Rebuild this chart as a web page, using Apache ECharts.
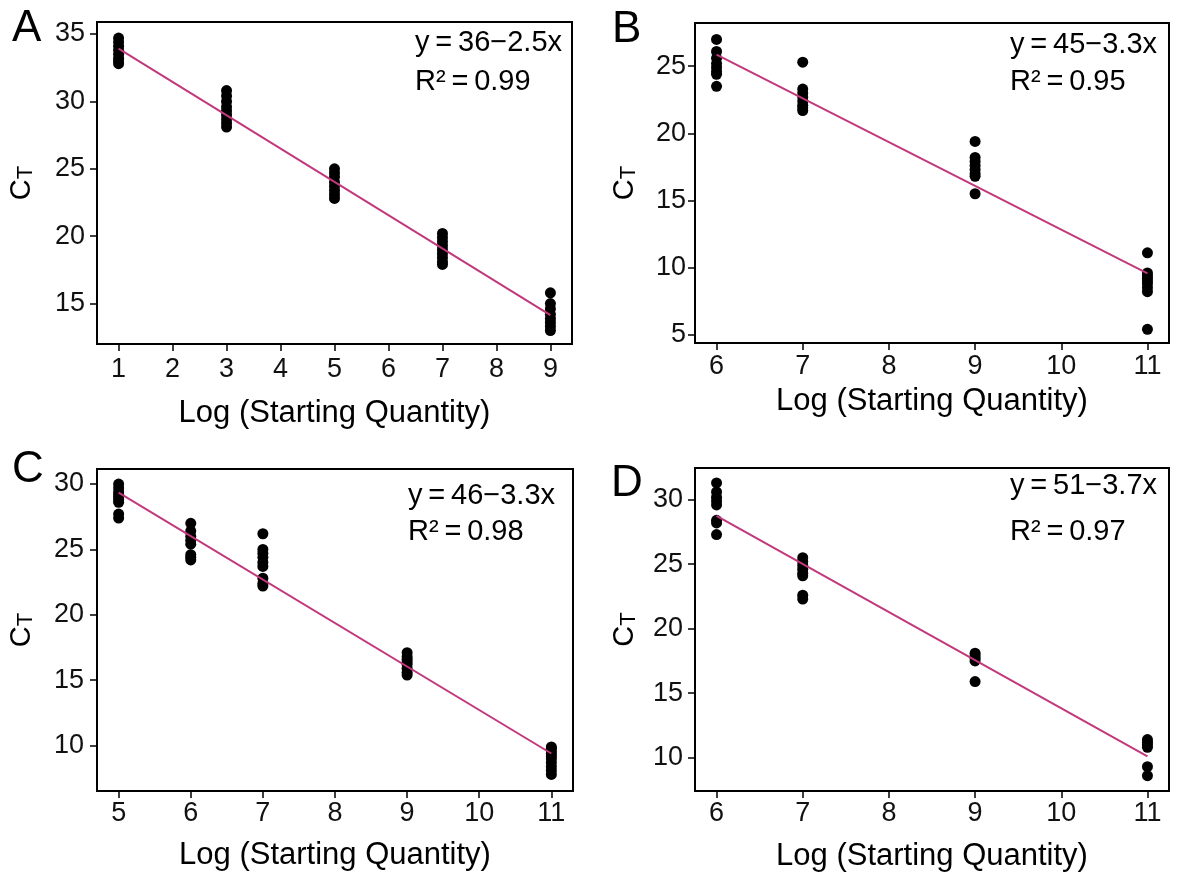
<!DOCTYPE html>
<html>
<head>
<meta charset="utf-8">
<script src="https://cdn.jsdelivr.net/npm/echarts@6/dist/echarts.min.js"></script>
<style>
  html, body { margin: 0; padding: 0; background: #fff; }
  #chart { width: 1180px; height: 881px; }
</style>
</head>
<body>
<div id="chart"></div>
<script>
// Log10 starting quantity of each dilution level, one array per panel
const levelsA = [1, 3, 5, 7, 9];
const levelsB = [6, 7, 9, 11];
const levelsC = [5, 6, 7, 9, 11];
const levelsD = [6, 7, 9, 11];

// Replicate CT values measured at each dilution level
const ctA = [
  [34.7, 34.4, 34.1, 33.8, 33.5, 33.2, 33.0, 32.8],
  [30.8, 30.4, 30.0, 29.6, 29.3, 29.0, 28.7, 28.4, 28.1],
  [25.0, 24.7, 24.4, 24.0, 23.7, 23.4, 23.1, 22.8],
  [20.2, 19.9, 19.6, 19.3, 19.0, 18.7, 18.4, 18.1, 17.9],
  [15.8, 15.0, 14.6, 14.2, 13.9, 13.6, 13.3, 13.0]
];
const ctB = [
  [27.0, 26.1, 25.6, 25.2, 24.9, 24.6, 24.4, 23.5],
  [25.3, 23.3, 23.0, 22.7, 22.4, 22.1, 21.9, 21.7],
  [19.4, 18.2, 17.9, 17.6, 17.3, 17.0, 16.8, 15.5],
  [11.1, 9.6, 9.4, 9.2, 9.0, 8.8, 8.5, 8.2, 5.4]
];
const ctC = [
  [30.0, 29.7, 29.4, 29.2, 29.0, 28.8, 28.6, 27.7, 27.4],
  [27.0, 26.4, 26.0, 25.7, 25.4, 24.6, 24.4, 24.2],
  [26.2, 25.0, 24.7, 24.4, 24.0, 23.7, 22.8, 22.4, 22.2],
  [17.1, 16.8, 16.6, 16.4, 16.2, 15.9, 15.6, 15.4],
  [9.9, 9.8, 9.6, 9.4, 9.2, 9.0, 8.7, 8.4, 8.1, 7.8]
];
const ctD = [
  [31.3, 30.6, 30.2, 29.9, 29.6, 28.4, 28.2, 27.3],
  [25.5, 25.2, 24.9, 24.6, 24.3, 24.1, 22.6, 22.3],
  [18.1, 17.9, 17.7, 17.5, 15.9],
  [11.4, 11.2, 11.0, 10.8, 9.3, 8.6]
];

// Tick labels
const xTicksA = [1, 2, 3, 4, 5, 6, 7, 8, 9];
const xTicksB = [6, 7, 8, 9, 10, 11];
const xTicksC = [5, 6, 7, 8, 9, 10, 11];
const xTicksD = [6, 7, 8, 9, 10, 11];
const yTicksA = [15, 20, 25, 30, 35];
const yTicksB = [5, 10, 15, 20, 25];
const yTicksC = [10, 15, 20, 25, 30];
const yTicksD = [10, 15, 20, 25, 30];

const panelLetters = ['A', 'B', 'C', 'D'];
const xTitle = 'Log (Starting Quantity)';

const FONT = '"Liberation Sans", Arial, Helvetica, sans-serif';
const FIT_COLOR = '#c2387c';

// Ordinary least-squares fit of CT on log quantity
function linearFit(levels, ct) {
  const pts = [];
  levels.forEach((x, i) => ct[i].forEach(y => pts.push([x, y])));
  const n = pts.length;
  let mx = 0, my = 0;
  pts.forEach(p => { mx += p[0]; my += p[1]; });
  mx /= n; my /= n;
  let sxx = 0, sxy = 0, syy = 0;
  pts.forEach(p => {
    const dx = p[0] - mx, dy = p[1] - my;
    sxx += dx * dx; sxy += dx * dy; syy += dy * dy;
  });
  const slope = sxy / sxx;
  const intercept = my - slope * mx;
  const r2 = (sxy * sxy) / (sxx * syy);
  return { pts, slope, intercept, r2, xmin: Math.min(...levels), xmax: Math.max(...levels) };
}

// Panel geometry and axis extents
const panels = [
  { levels: levelsA, ct: ctA, xTicks: xTicksA, yTicks: yTicksA,
    grid: { left: 97, top: 22, width: 475, height: 322 },
    xRange: [0.6, 9.4], yRange: [12.0, 35.89],
    xNameGap: 54, yNameGap: 60, xLabelMargin: 12, yLabelMargin: 12,
    letterPos: [12, 29], eqPos: [415, 43, 82] },
  { levels: levelsB, ct: ctB, xTicks: xTicksB, yTicks: yTicksB,
    grid: { left: 695, top: 23, width: 474, height: 320 },
    xRange: [5.75, 11.25], yRange: [4.38, 28.22],
    xNameGap: 43, yNameGap: 55, xLabelMargin: 10, yLabelMargin: 9,
    letterPos: [612, 30], eqPos: [1010, 45, 82] },
  { levels: levelsC, ct: ctC, xTicks: xTicksC, yTicks: yTicksC,
    grid: { left: 97, top: 469, width: 476, height: 322 },
    xRange: [4.7, 11.3], yRange: [6.53, 31.15],
    xNameGap: 49, yNameGap: 60, xLabelMargin: 9, yLabelMargin: 13,
    letterPos: [12, 470], eqPos: [408, 496, 532] },
  { levels: levelsD, ct: ctD, xTicks: xTicksD, yTicks: yTicksD,
    grid: { left: 695, top: 468, width: 474, height: 323 },
    xRange: [5.75, 11.25], yRange: [7.41, 32.46],
    xNameGap: 50, yNameGap: 55, xLabelMargin: 9, yLabelMargin: 12,
    letterPos: [611, 484], eqPos: [1010, 486, 532] }
];

const grids = [], xAxes = [], yAxes = [], series = [], graphics = [];

panels.forEach((p, i) => {
  const f = linearFit(p.levels, p.ct);

  grids.push(Object.assign({
    show: true, borderColor: '#000', borderWidth: 2, backgroundColor: '#fff',
    containLabel: false, outerBoundsMode: 'none'
  }, p.grid));

  xAxes.push({
    gridIndex: i, type: 'value', min: p.xRange[0], max: p.xRange[1],
    name: xTitle, nameLocation: 'middle', nameGap: p.xNameGap,
    nameTextStyle: { fontSize: 31, fontFamily: FONT, color: '#000' },
    axisLine: { show: true, onZero: false, lineStyle: { color: '#000', width: 2 } },
    axisTick: { show: true, length: 7, lineStyle: { color: '#000', width: 1.5 }, customValues: p.xTicks },
    axisLabel: { fontSize: 27, fontFamily: FONT, color: '#111', margin: p.xLabelMargin, customValues: p.xTicks },
    splitLine: { show: false }
  });

  yAxes.push({
    gridIndex: i, type: 'value', min: p.yRange[0], max: p.yRange[1],
    name: '{c|C}{t|T}', nameLocation: 'middle', nameGap: p.yNameGap, nameRotate: 90,
    nameTextStyle: {
      rich: {
        c: { fontSize: 29, fontFamily: FONT, color: '#000', lineHeight: 30 },
        t: { fontSize: 22, fontFamily: FONT, color: '#000', lineHeight: 22, verticalAlign: 'bottom' }
      }
    },
    axisLine: { show: true, onZero: false, lineStyle: { color: '#000', width: 2 } },
    axisTick: { show: true, length: 7, lineStyle: { color: '#000', width: 1.5 }, customValues: p.yTicks },
    axisLabel: { fontSize: 27, fontFamily: FONT, color: '#111', margin: p.yLabelMargin, customValues: p.yTicks },
    splitLine: { show: false }
  });

  series.push({
    type: 'scatter', xAxisIndex: i, yAxisIndex: i,
    data: f.pts, symbol: 'circle', symbolSize: 11,
    itemStyle: { color: '#000', opacity: 1 }, z: 2
  });

  series.push({
    type: 'line', xAxisIndex: i, yAxisIndex: i,
    data: [[f.xmin, f.intercept + f.slope * f.xmin], [f.xmax, f.intercept + f.slope * f.xmax]],
    showSymbol: false, symbol: 'none',
    lineStyle: { color: FIT_COLOR, width: 2 }, z: 3
  });

  // Fitted equation and coefficient of determination
  const a = Math.round(f.intercept);
  const b = Math.abs(f.slope).toFixed(1);
  const sign = f.slope < 0 ? '\u2212' : '+';
  const eqText = 'y\u2009=\u2009' + a + sign + b + 'x';
  const r2Text = 'R\u00b2\u2009=\u2009' + f.r2.toFixed(2);
  [[eqText, p.eqPos[1]], [r2Text, p.eqPos[2]]].forEach(([t, y]) => {
    graphics.push({
      type: 'text', x: p.eqPos[0], y: y, z: 10,
      style: { text: t, fontSize: 29, fontFamily: FONT, fill: '#000', align: 'left', verticalAlign: 'middle' }
    });
  });

  graphics.push({
    type: 'text', x: p.letterPos[0], y: p.letterPos[1], z: 10,
    style: { text: panelLetters[i], fontSize: 44, fontFamily: FONT, fill: '#000', align: 'left', verticalAlign: 'middle' }
  });
});

const chart = echarts.init(document.getElementById('chart'), null, { renderer: 'canvas' });
chart.setOption({
  animation: false,
  backgroundColor: '#fff',
  grid: grids,
  xAxis: xAxes,
  yAxis: yAxes,
  series: series,
  graphic: graphics
});
</script>
</body>
</html>
